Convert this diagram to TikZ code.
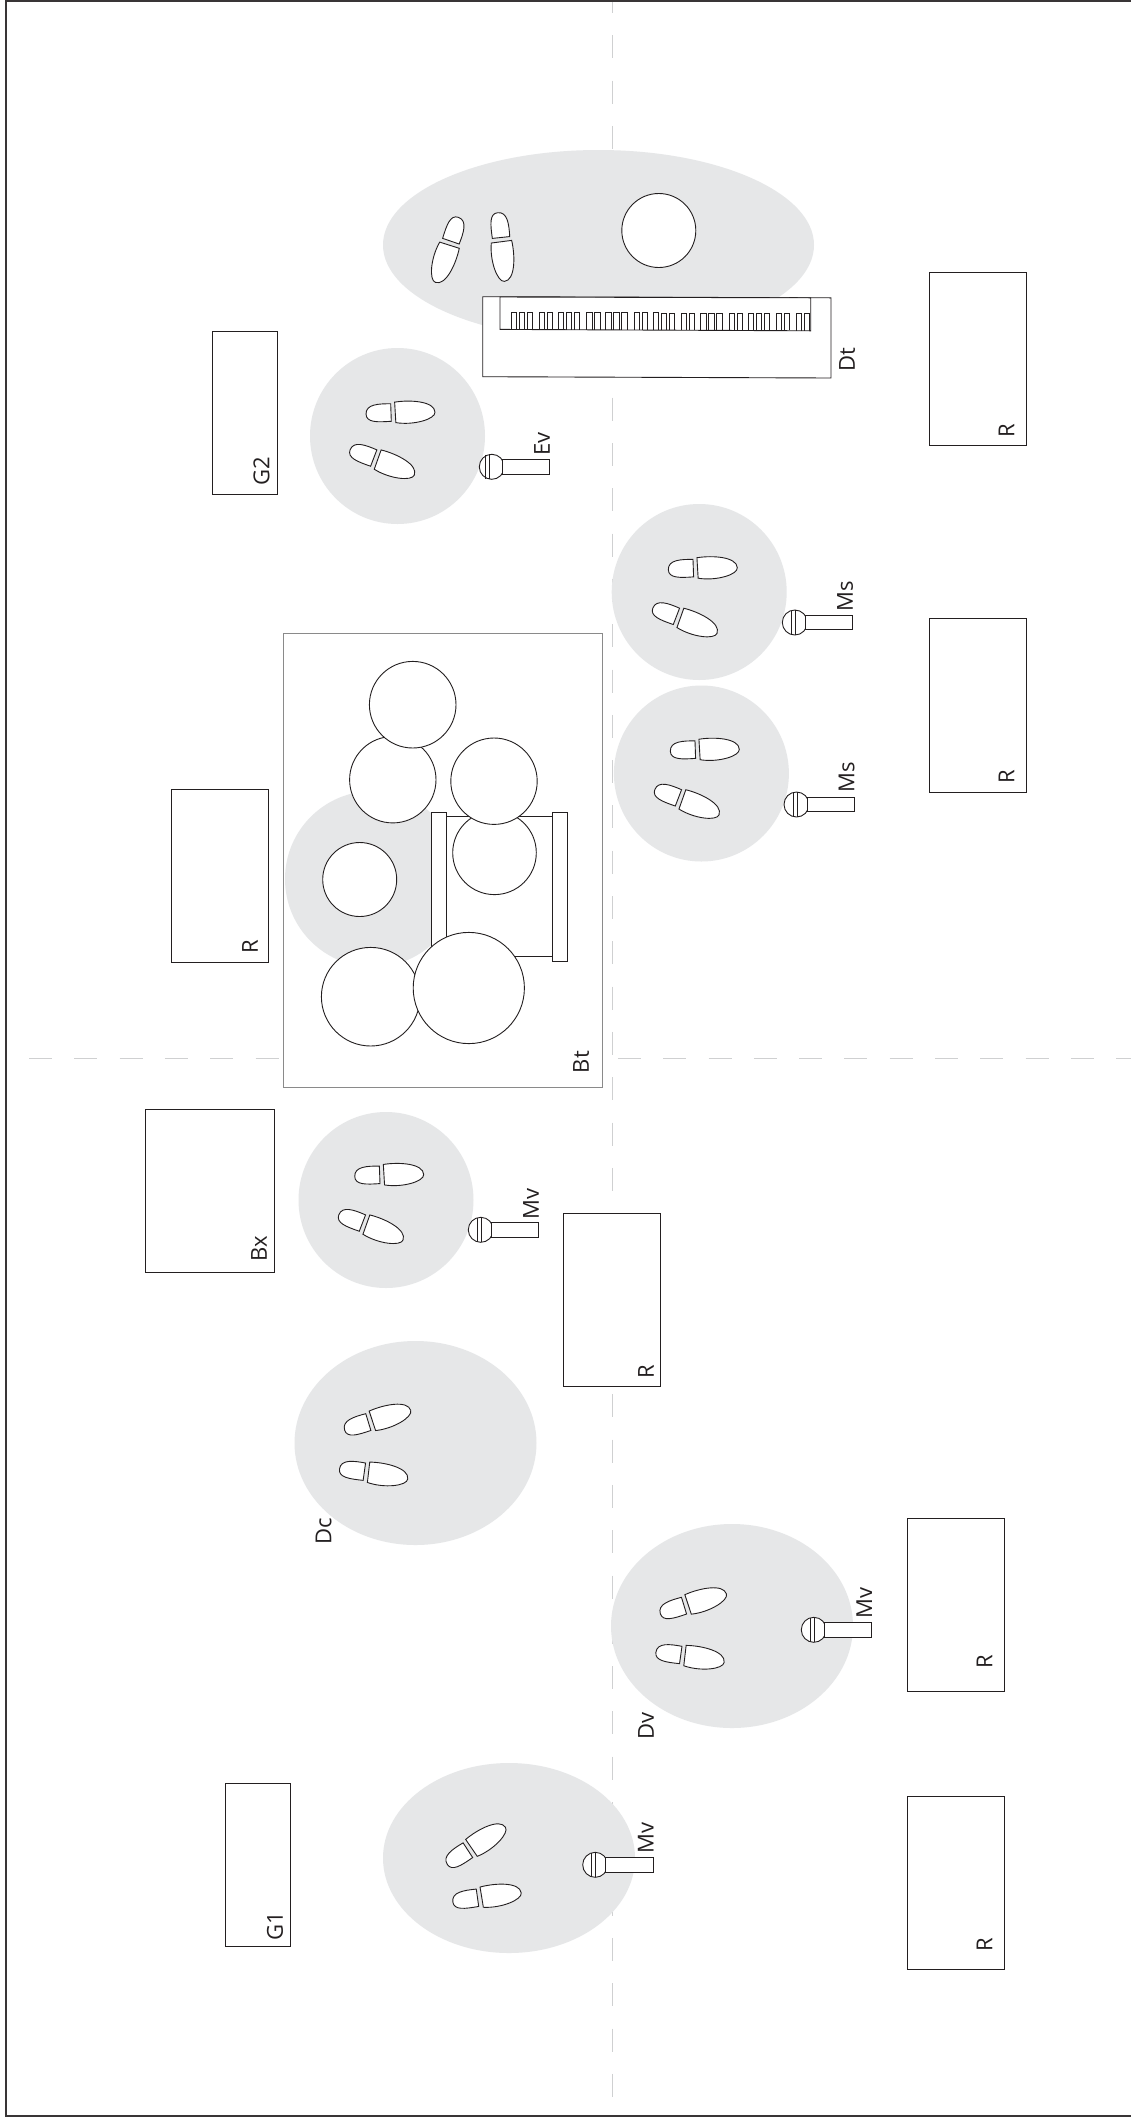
\documentclass[tikz,border=0pt]{standalone}
\usepackage{fontspec}
\setmainfont{Open Sans}
\definecolor{ink}{HTML}{231F20}
\definecolor{zone}{HTML}{E6E7E8}
\definecolor{guide}{HTML}{CFD0D1}
\definecolor{softline}{HTML}{8A8A8A}
\tikzset{
  outline/.style={draw=ink,fill=white,line width=0.9pt},
  softbox/.style={draw=softline,fill=white,line width=1.3pt},
  keyline/.style={draw=ink,line width=0.65pt},
  guideline/.style={draw=guide,line width=1.1pt,dash pattern=on 23pt off 22.3pt},
  zonefill/.style={fill=zone,draw=none},
  lab/.style={rotate=90,font=\fontsize{22}{24}\selectfont,text=ink,inner sep=0pt,anchor=center},
}
\newcommand{\shoe}[3]{%
  \begin{scope}[shift={(#1,#2)},rotate={0-(#3)}]
    \path[outline] (-2,-9) .. controls (-14,-9.5) and (-27,-9.5) .. (-27,0.5)
      .. controls (-27,9) and (-16,9) .. (-2,8.5) -- cycle;
    \path[outline] (2,-10.5) .. controls (18,-12.5) and (42,-10) .. (42,1)
      .. controls (42,8) and (20,13.5) .. (2.5,10) -- cycle;
  \end{scope}}
\newcommand{\micro}[4]{%
  \begin{scope}[shift={(#1,#2)}]
    \path[outline] (0,0) circle[radius=12.5];
    \draw[ink,line width=0.9pt] (#3,-12) -- (#3,12) (#4,-12.4) -- (#4,12.4);
    \path[outline] (10.5,-7.4) rectangle (58,7.4);
  \end{scope}}
\newcommand{\keygroup}[2]{%
  \foreach \i in {1,...,#2}{
    \pgfmathsetmacro{\xa}{#1+(\i-1)*8}
    \pgfmathsetmacro{\yt}{312.3+(\xa-511)*0.0035}
    \draw[keyline] (\xa,\yt+17.2) -- (\xa,\yt) -- (\xa+5.3,\yt) -- (\xa+5.3,\yt+17.2);
  }}
\begin{document}
\begin{tikzpicture}[x=1pt,y=-1pt]
\clip (0,0) rectangle (1131,2123);
\fill[white] (0,0) rectangle (1131,2123);
% guides
\draw[guideline] (612.7,-10) -- (612.7,2117);
\draw[guideline] (29,1058.3) -- (1131,1058.3);
% frame
\draw[ink!90,line width=2.4pt] (1131,1) -- (6,1) -- (6,2116) -- (1131,2116);
% zones
\path[zonefill] (598.5,245) ellipse[x radius=215.5,y radius=95];
\path[zonefill] (397.5,436) ellipse[x radius=87.5,y radius=88];
\path[zonefill] (699.2,592) ellipse[x radius=87.5,y radius=88];
\path[zonefill] (701.4,773.5) ellipse[x radius=87.5,y radius=88];
\path[zonefill] (386,1200) ellipse[x radius=87.5,y radius=88];
\path[zonefill] (415.5,1443) ellipse[x radius=121,y radius=102];
\path[zonefill] (732,1626) ellipse[x radius=121,y radius=102];
\path[zonefill] (509,1858) ellipse[x radius=126,y radius=95];
% speaker and amp boxes
\path[outline] (212.7,331) rectangle (277.7,494.5);
\path[outline] (929,272) rectangle (1026,445.5);
\path[outline] (929,618) rectangle (1026,792);
\path[outline] (171.5,789) rectangle (268,962);
\path[outline] (145.5,1109) rectangle (274.5,1272);
\path[outline] (563.5,1213) rectangle (660,1386);
\path[outline] (907.5,1518) rectangle (1004.5,1691);
\path[outline] (907.5,1796) rectangle (1004.5,1969);
\path[outline] (225.5,1783) rectangle (290,1946.5);
% keyboard
\path[outline] (482.7,296.7) -- (831,297.8) -- (831,378) -- (482.7,376.7) -- cycle;
\path[outline] (500,297) -- (810.7,297.8) -- (810.7,330.8) -- (500,329.4) -- cycle;
\foreach \k in {0,...,5}{
  \pgfmathsetmacro{\xt}{511+\k*47.4}
  \pgfmathsetmacro{\xd}{539.3+\k*47.4}
  \keygroup{\xt}{3}
  \keygroup{\xd}{2}
}
\keygroup{796}{2}
\path[outline] (658.8,230.5) circle[radius=37];
% drum kit
\path[softbox] (283.3,633.3) rectangle (602.3,1087.7);
\path[zonefill] (373,879) circle[radius=88];
\path[outline] (446.7,816.7) rectangle (552.3,956.7);
\path[outline] (431.3,812.5) rectangle (446.7,961.3);
\path[outline] (552.3,812.5) rectangle (567.7,961.3);
\path[outline] (494.5,852.8) circle[radius=41.8];
\path[outline] (494,781.2) circle[radius=43.2];
\path[outline] (392.8,779.7) circle[radius=43.2];
\path[outline] (412.7,704.7) circle[radius=43.3];
\path[outline] (359.7,879.5) circle[radius=37];
\path[outline] (370.7,996.7) circle[radius=49.3];
\path[outline] (468.8,988) circle[radius=55.6];
% shoes
\shoe{450}{243}{109}
\shoe{501}{239.5}{84}
\shoe{393}{412.7}{-2}
\shoe{375.5}{459}{21}
\shoe{695.3}{568.3}{-2}
\shoe{678.2}{617.3}{21}
\shoe{697.3}{749.8}{-2}
\shoe{680.2}{798.8}{21}
\shoe{381.7}{1175}{-2}
\shoe{364.2}{1224}{21}
\shoe{370.3}{1421.7}{-17}
\shoe{366.3}{1472.2}{8}
\shoe{686}{1605.3}{-17}
\shoe{682.7}{1655.5}{8}
\shoe{469.7}{1849.3}{-33}
\shoe{479.5}{1897.7}{-8}
% microphones
\micro{491.8}{466.8}{-6.3}{-2.3}
\micro{794.8}{622.5}{-3.3}{0.7}
\micro{796.5}{804.5}{-3.3}{0.7}
\micro{480.8}{1229.8}{-3.3}{0.7}
\micro{813.8}{1629.8}{-3.3}{0.7}
\micro{595.2}{1864.8}{-3.3}{0.7}
% labels
\node[lab] (lG2) at (261.5,471) {G2};
\node[lab] (lDt) at (847,360) {Dt};
\node[lab] (lEv) at (542,444) {Ev};
\node[lab] (lR1) at (1006.5,431) {R};
\node[lab] (lR2) at (1006.5,777) {R};
\node[lab] (lMs1) at (845,596) {Ms};
\node[lab] (lMs2) at (846.5,777.5) {Ms};
\node[lab] (lR3) at (250,947) {R};
\node[lab] (lBt) at (581,1062) {Bt};
\node[lab] (lBx) at (259,1249) {Bx};
\node[lab] (lMv1) at (531,1204) {Mv};
\node[lab] (lR4) at (646,1372) {R};
\node[lab] (lDc) at (323.7,1531) {Dc};
\node[lab] (lMv2) at (864.3,1603) {Mv};
\node[lab] (lR5) at (984.5,1662) {R};
\node[lab] (lDv) at (646,1726) {Dv};
\node[lab] (lMv3) at (645.7,1838) {Mv};
\node[lab] (lG1) at (275,1926) {G1};
\node[lab] (lR6) at (984.5,1945) {R};
\end{tikzpicture}
\end{document}
